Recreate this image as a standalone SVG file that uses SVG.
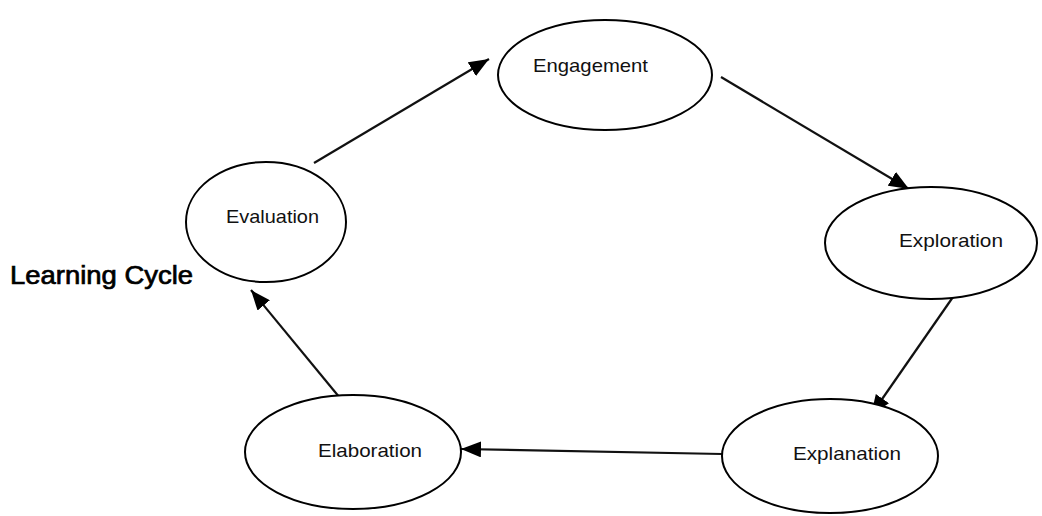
<svg xmlns="http://www.w3.org/2000/svg" width="1042" height="516" viewBox="0 0 1042 516">
<style>
.node ellipse{fill:#fff;stroke:#000;stroke-width:2}
.node text{font-family:"Liberation Sans",Arial,sans-serif;font-size:19px;fill:#111}
.conn line{stroke:#111;stroke-width:2.2}
.title{font-family:"Liberation Sans",Arial,sans-serif;font-size:25px;fill:#000;stroke:#000;stroke-width:0.7}
</style>
<defs>
<marker id="ah" viewBox="0 0 20 16" refX="20" refY="8" markerWidth="20" markerHeight="16" markerUnits="userSpaceOnUse" orient="auto">
<path d="M0,0 L20,8 L0,16 Z" fill="#000"/>
</marker>
</defs>
<rect width="1042" height="516" fill="#fff"/>
<g class="conn">
<line x1="314" y1="163" x2="489" y2="59" marker-end="url(#ah)"/>
<line x1="721" y1="77" x2="909" y2="189" marker-end="url(#ah)"/>
<line x1="953" y1="297" x2="871" y2="415" marker-end="url(#ah)"/>
<line x1="722" y1="454" x2="461" y2="449" marker-end="url(#ah)"/>
<line x1="340" y1="398" x2="251" y2="290" marker-end="url(#ah)"/>
</g>
<g id="engagement" class="node">
<ellipse cx="605" cy="75" rx="107" ry="55"/>
<text x="533" y="72" textLength="115" lengthAdjust="spacingAndGlyphs">Engagement</text>
</g>
<g id="exploration" class="node">
<ellipse cx="931" cy="243" rx="106" ry="56"/>
<text x="899" y="247" textLength="104" lengthAdjust="spacingAndGlyphs">Exploration</text>
</g>
<g id="explanation" class="node">
<ellipse cx="830" cy="456" rx="108" ry="57"/>
<text x="793" y="460" textLength="108" lengthAdjust="spacingAndGlyphs">Explanation</text>
</g>
<g id="elaboration" class="node">
<ellipse cx="353" cy="452" rx="108" ry="57"/>
<text x="318" y="457" textLength="104" lengthAdjust="spacingAndGlyphs">Elaboration</text>
</g>
<g id="evaluation" class="node">
<ellipse cx="266" cy="222" rx="80" ry="60"/>
<text x="226" y="223" textLength="93" lengthAdjust="spacingAndGlyphs">Evaluation</text>
</g>
<text class="title" x="10" y="284" textLength="183" lengthAdjust="spacingAndGlyphs">Learning Cycle</text>
</svg>
